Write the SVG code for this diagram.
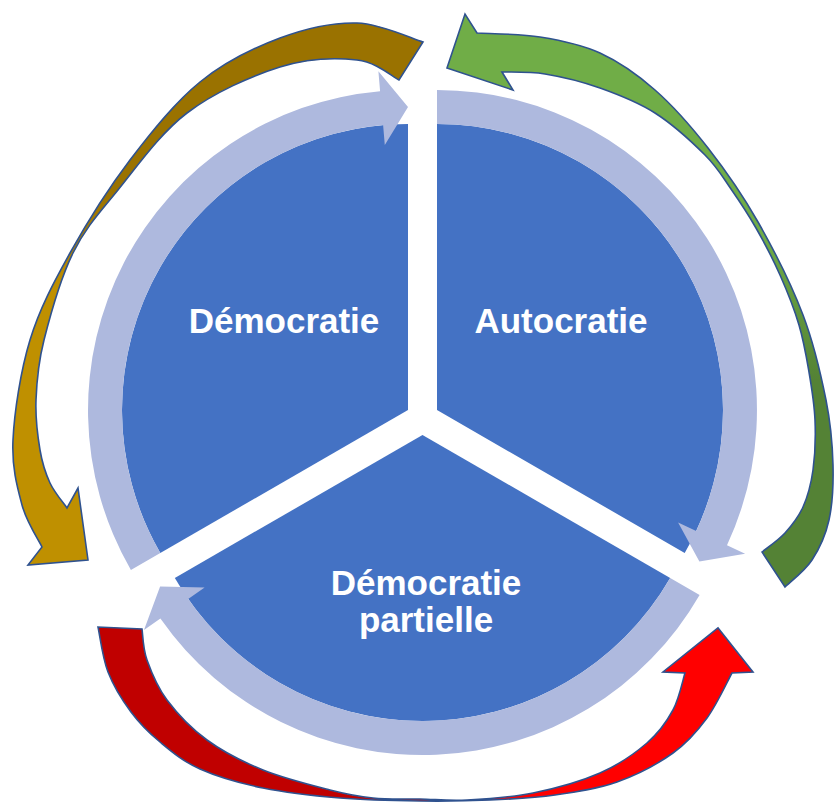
<svg xmlns="http://www.w3.org/2000/svg" width="835" height="802" viewBox="0 0 835 802">
  <defs>
    <linearGradient id="gold" gradientUnits="userSpaceOnUse" x1="0" y1="190" x2="0" y2="290">
      <stop offset="0" stop-color="#9A7200"/>
      <stop offset="1" stop-color="#BF9000"/>
    </linearGradient>
    <linearGradient id="green" gradientUnits="userSpaceOnUse" x1="0" y1="230" x2="0" y2="380">
      <stop offset="0" stop-color="#70AD47"/>
      <stop offset="1" stop-color="#548235"/>
    </linearGradient>
    <linearGradient id="red" gradientUnits="userSpaceOnUse" x1="390" y1="0" x2="480" y2="0">
      <stop offset="0" stop-color="#C00000"/>
      <stop offset="1" stop-color="#FF0000"/>
    </linearGradient>
  </defs>
  <style>
    .sector { fill: #4472C4; }
    .ring { fill: #AEB9DE; }
    .label { fill: #FFFFFF; font-family: "Liberation Sans", Arial, sans-serif; font-weight: bold; font-size: 35px; text-anchor: middle; }
    .cycle { stroke: #2F528F; stroke-width: 1.6; stroke-linejoin: miter; }
  </style>

  <rect width="835" height="802" fill="#FFFFFF"/>

  <!-- upper-left segment -->
  <g id="democratie">
    <path class="sector" d="M 408 410 L 160.3 553 A 286 286 0 0 1 408 124 Z"/>
    <path class="ring" d="M 130.9 570 A 320 320 0 0 1 380.1 91.2 L 378.4 71.3 L 408 107 L 384.8 145 L 383.1 125.1 A 286 286 0 0 0 160.3 553 Z"/>
    <text class="label" x="284" y="333">Démocratie</text>
  </g>

  <!-- upper-right segment -->
  <g id="autocratie">
    <path class="sector" d="M 437 410 L 437 124 A 286 286 0 0 1 684.7 553 Z"/>
    <path class="ring" d="M 437 90 A 320 320 0 0 1 727 545.2 L 745.1 553.7 L 699.4 561.5 L 678.1 522.4 L 696.2 530.9 A 286 286 0 0 0 437 124 Z"/>
    <text class="label" x="561" y="333">Autocratie</text>
  </g>

  <!-- bottom segment -->
  <g id="democratie-partielle">
    <path class="sector" d="M 422.5 435 L 670.2 578 A 286 286 0 0 1 174.8 578 Z"/>
    <path class="ring" d="M 699.6 595 A 320 320 0 0 1 160.4 618.6 L 144 630 L 160.1 586.5 L 204.6 587.6 L 188.2 599 A 286 286 0 0 0 670.2 578 Z"/>
    <text class="label" x="426" y="595">Démocratie</text>
    <text class="label" x="426" y="632">partielle</text>
  </g>

  <!-- transitions between the three regimes -->
  <g id="connectors">
    <path id="arrow-gold" class="cycle" fill="url(#gold)" d="M 423 42
      C 412 38.8 380.8 23.7 357 23
      C 333.2 22.3 306.2 28.2 280 38
      C 253.8 47.8 225 61.7 200 82
      C 175 102.3 151.7 131.5 130 160
      C 108.3 188.5 86.7 223 70 253
      C 53.3 283 39.5 308.8 30 340
      C 20.5 371.2 14.3 412.5 13 440
      C 11.7 467.5 17.2 487.2 22 505
      C 26.8 522.8 38.7 540 42 547
      L 28 565 L 88 560 L 78 488 L 67 508
      C 64.2 503.8 54.5 492.7 50 483
      C 45.5 473.3 42.3 463.8 40 450
      C 37.7 436.2 35.3 418.3 36 400
      C 36.7 381.7 37.8 364.5 44 340
      C 50.2 315.5 60.7 278 73 253
      C 85.3 228 99 213.3 118 190
      C 137 166.7 160 133.5 187 113
      C 214 92.5 251.7 75.8 280 67
      C 308.3 58.2 337.2 57.8 357 60
      C 376.8 62.2 392 76.7 399 80 Z"/>
    <path id="arrow-green" class="cycle" fill="url(#green)" d="M 477 33
      C 487.5 33.7 519.5 33.7 540 37
      C 560.5 40.3 580.8 44.2 600 53
      C 619.2 61.8 637 74.2 655 90
      C 673 105.8 690.8 126 708 148
      C 725.2 170 742.2 194.2 758 222
      C 773.8 249.8 791.7 285.3 803 315
      C 814.3 344.7 821 375 826 400
      C 831 425 832.5 445 833 465
      C 833.5 485 832.5 504.2 829 520
      C 825.5 535.8 819.3 548.8 812 560
      C 804.7 571.2 789.5 582.5 785 587
      L 762 552
      C 765.8 548.8 778.2 540.5 785 533
      C 791.8 525.5 798.3 517.5 803 507
      C 807.7 496.5 811 484.5 813 470
      C 815 455.5 815.7 436.3 815 420
      C 814.3 403.7 811.7 387.8 809 372
      C 806.3 356.2 803.8 341.2 799 325
      C 794.2 308.8 787.2 291.2 780 275
      C 772.8 258.8 764.2 242.3 756 228
      C 747.8 213.7 739.5 201.2 731 189
      C 722.5 176.8 717.7 167.7 705 155
      C 692.3 142.3 672.5 124.2 655 113
      C 637.5 101.8 618.3 94.5 600 88
      C 581.7 81.5 561.3 76.7 545 74
      C 528.7 71.3 509.2 72.3 502 72
      L 513 90 L 447 68 L 465 14 Z"/>
    <path id="arrow-red" class="cycle" fill="url(#red)" d="M 98 627
      C 99.7 634.5 102.5 657.8 108 672
      C 113.5 686.2 122.3 700.3 131 712
      C 139.7 723.7 148.5 732.5 160 742
      C 171.5 751.5 182.8 761.3 200 769
      C 217.2 776.7 239.7 783.2 263 788
      C 286.3 792.8 313.8 795.8 340 798
      C 366.2 800.2 395 800.7 420 801
      C 445 801.3 467.5 801 490 800
      C 512.5 799 533.8 798 555 795
      C 576.2 792 597.3 789 617 782
      C 636.7 775 658 763.7 673 753
      C 688 742.3 697.2 731.3 707 718
      C 716.8 704.7 727.8 680.5 732 673
      L 753 672 L 718 628 L 663 672 L 685 673
      C 683 679.2 679.3 698.3 673 710
      C 666.7 721.7 659.2 732.5 647 743
      C 634.8 753.5 619 764.7 600 773
      C 581 781.3 555.2 788.5 533 793
      C 510.8 797.5 485.8 799 467 800
      C 448.2 801 435.7 799.3 420 799
      C 404.3 798.7 388 799.5 373 798
      C 358 796.5 348.3 794.7 330 790
      C 311.7 785.3 283.5 778.3 263 770
      C 242.5 761.7 223 751.7 207 740
      C 191 728.3 177 713.3 167 700
      C 157 686.7 151.2 671.8 147 660
      C 142.8 648.2 142.8 634.2 142 629 Z"/>
  </g>
</svg>
